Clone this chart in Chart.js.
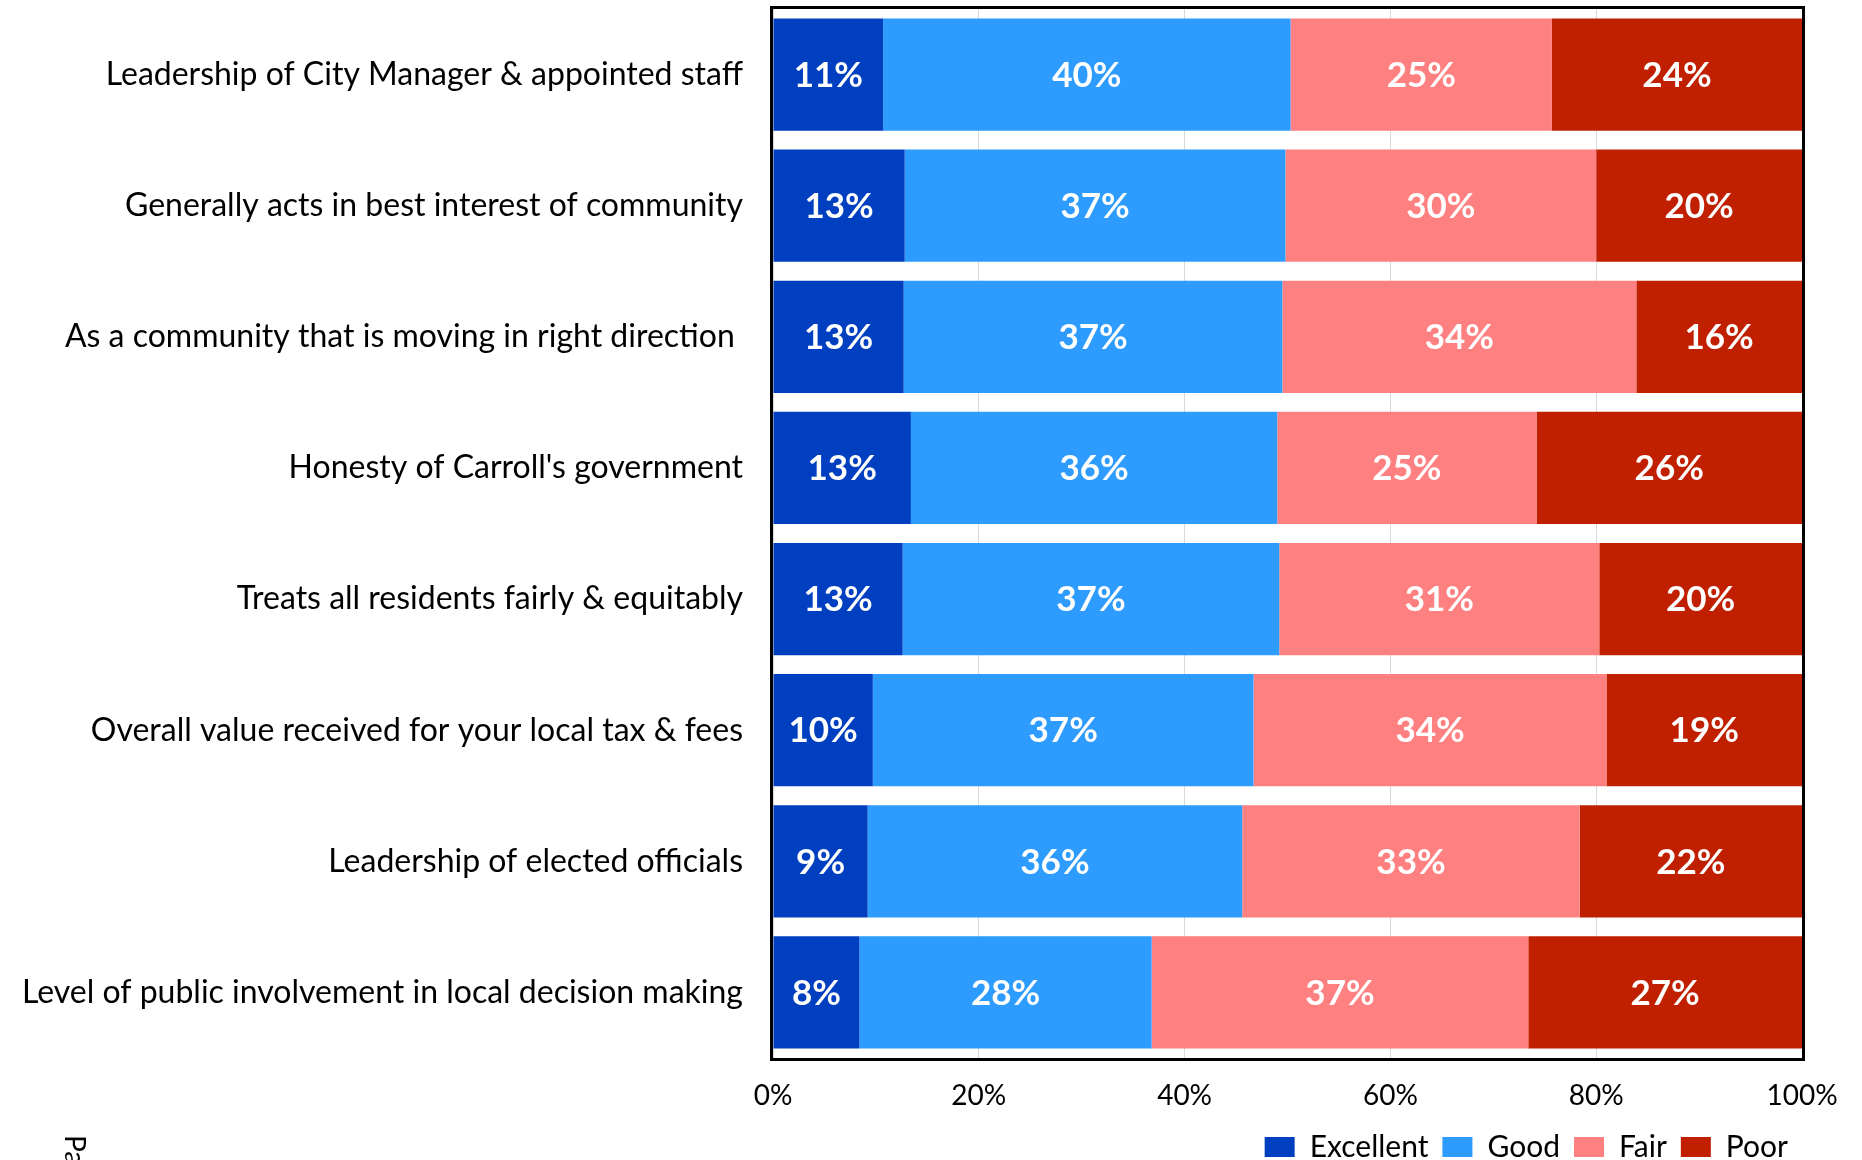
<!DOCTYPE html>
<html>
<head>
<meta charset="utf-8">
<script src="https://cdn.jsdelivr.net/npm/chart.js@4/dist/chart.umd.min.js"></script>
<style>
    html, body { margin: 0; padding: 0; background: #fff; overflow: hidden; }
    #chart { position: absolute; left: 0; top: 0; }
    #pageTag {
        position: absolute; left: 90px; top: 1135px;
        font: 28px Lato, sans-serif; line-height: 28px; color: #000;
        transform-origin: 0 0; transform: rotate(90deg); white-space: nowrap;
    }
</style>
</head>
<body>
<canvas id="chart" width="1862" height="1180"></canvas>
<div id="pageTag">Page</div>
<script>
const categories = [
    "Leadership of City Manager & appointed staff",
    "Generally acts in best interest of community",
    "As a community that is moving in right direction ",
    "Honesty of Carroll's government",
    "Treats all residents fairly & equitably",
    "Overall value received for your local tax & fees",
    "Leadership of elected officials",
    "Level of public involvement in local decision making"
];
const seriesNames = ["Excellent", "Good", "Fair", "Poor"];
const excellent = [10.7, 12.8, 12.7, 13.4, 12.6, 9.7, 9.2, 8.4];
const good = [39.6, 37.0, 36.8, 35.6, 36.6, 37.0, 36.4, 28.4];
const fair = [25.4, 30.2, 34.4, 25.2, 31.1, 34.3, 32.8, 36.6];
const poor = [24.3, 20.0, 16.1, 25.8, 19.7, 19.0, 21.6, 26.6];
const xTicks = [0, 20, 40, 60, 80, 100];

const colors = ["#0040C0", "#2E9BFF", "#FF8080", "#C02000"];
const FONT = "Lato, 'Open Sans', sans-serif";

// black frame around the plot + white % labels in each segment
const frameAndLabels = {
    id: "frameAndLabels",
    afterDatasetsDraw(chart) {
        const ctx = chart.ctx;
        const a = chart.chartArea;
        ctx.save();
        ctx.lineWidth = 3;
        ctx.strokeStyle = "#000";
        ctx.strokeRect(a.left - 1.5, a.top - 1.5, a.right - a.left + 3, a.bottom - a.top + 3);

        ctx.fillStyle = "#fff";
        ctx.font = "bold 35px " + FONT;
        ctx.textAlign = "center";
        ctx.textBaseline = "middle";
        chart.data.datasets.forEach((ds, i) => {
            const meta = chart.getDatasetMeta(i);
            meta.data.forEach((bar, j) => {
                const v = ds.data[j];
                ctx.fillText(Math.round(v) + "%", (bar.x + bar.base) / 2, bar.y + 1);
            });
        });
        ctx.restore();
    }
};

function draw() {
    new Chart(document.getElementById("chart"), {
        type: "bar",
        data: {
            labels: categories,
            datasets: [excellent, good, fair, poor].map((d, i) => ({
                label: seriesNames[i],
                data: d,
                backgroundColor: colors[i],
                borderWidth: 0,
                barPercentage: 0.857,
                categoryPercentage: 1
            }))
        },
        options: {
            indexAxis: "y",
            responsive: false,
            animation: false,
            devicePixelRatio: 1,
            layout: { padding: { top: 9, right: 60, bottom: 8, left: 0 } },
            scales: {
                x: {
                    stacked: true,
                    min: 0,
                    max: 100,
                    afterBuildTicks(scale) {
                        scale.ticks = xTicks.map(v => ({ value: v }));
                    },
                    afterFit(scale) {
                        scale.height = 60;
                        scale.paddingLeft = 0;
                        scale.paddingRight = 0;
                    },
                    grid: { color: "#d9d9d9", lineWidth: 1, drawTicks: false },
                    border: { display: false },
                    ticks: {
                        padding: 21,
                        color: "#000",
                        font: { family: FONT, size: 28 },
                        callback: v => v + "%"
                    }
                },
                y: {
                    stacked: true,
                    afterFit(scale) {
                        scale.width = 773;
                        scale.paddingTop = 0;
                        scale.paddingBottom = 0;
                    },
                    grid: { display: false, drawTicks: false },
                    border: { display: false },
                    ticks: {
                        padding: 30,
                        color: "#000",
                        font: { family: FONT, size: 32 }
                    }
                }
            },
            plugins: {
                legend: {
                    position: "bottom",
                    align: "end",
                    labels: {
                        boxWidth: 30,
                        boxHeight: 20,
                        padding: 14,
                        color: "#000",
                        font: { family: FONT, size: 30 }
                    }
                },
                tooltip: { enabled: false }
            }
        },
        plugins: [frameAndLabels]
    });
}

document.fonts.load("30px Lato").then(draw, draw);
</script>
</body>
</html>
